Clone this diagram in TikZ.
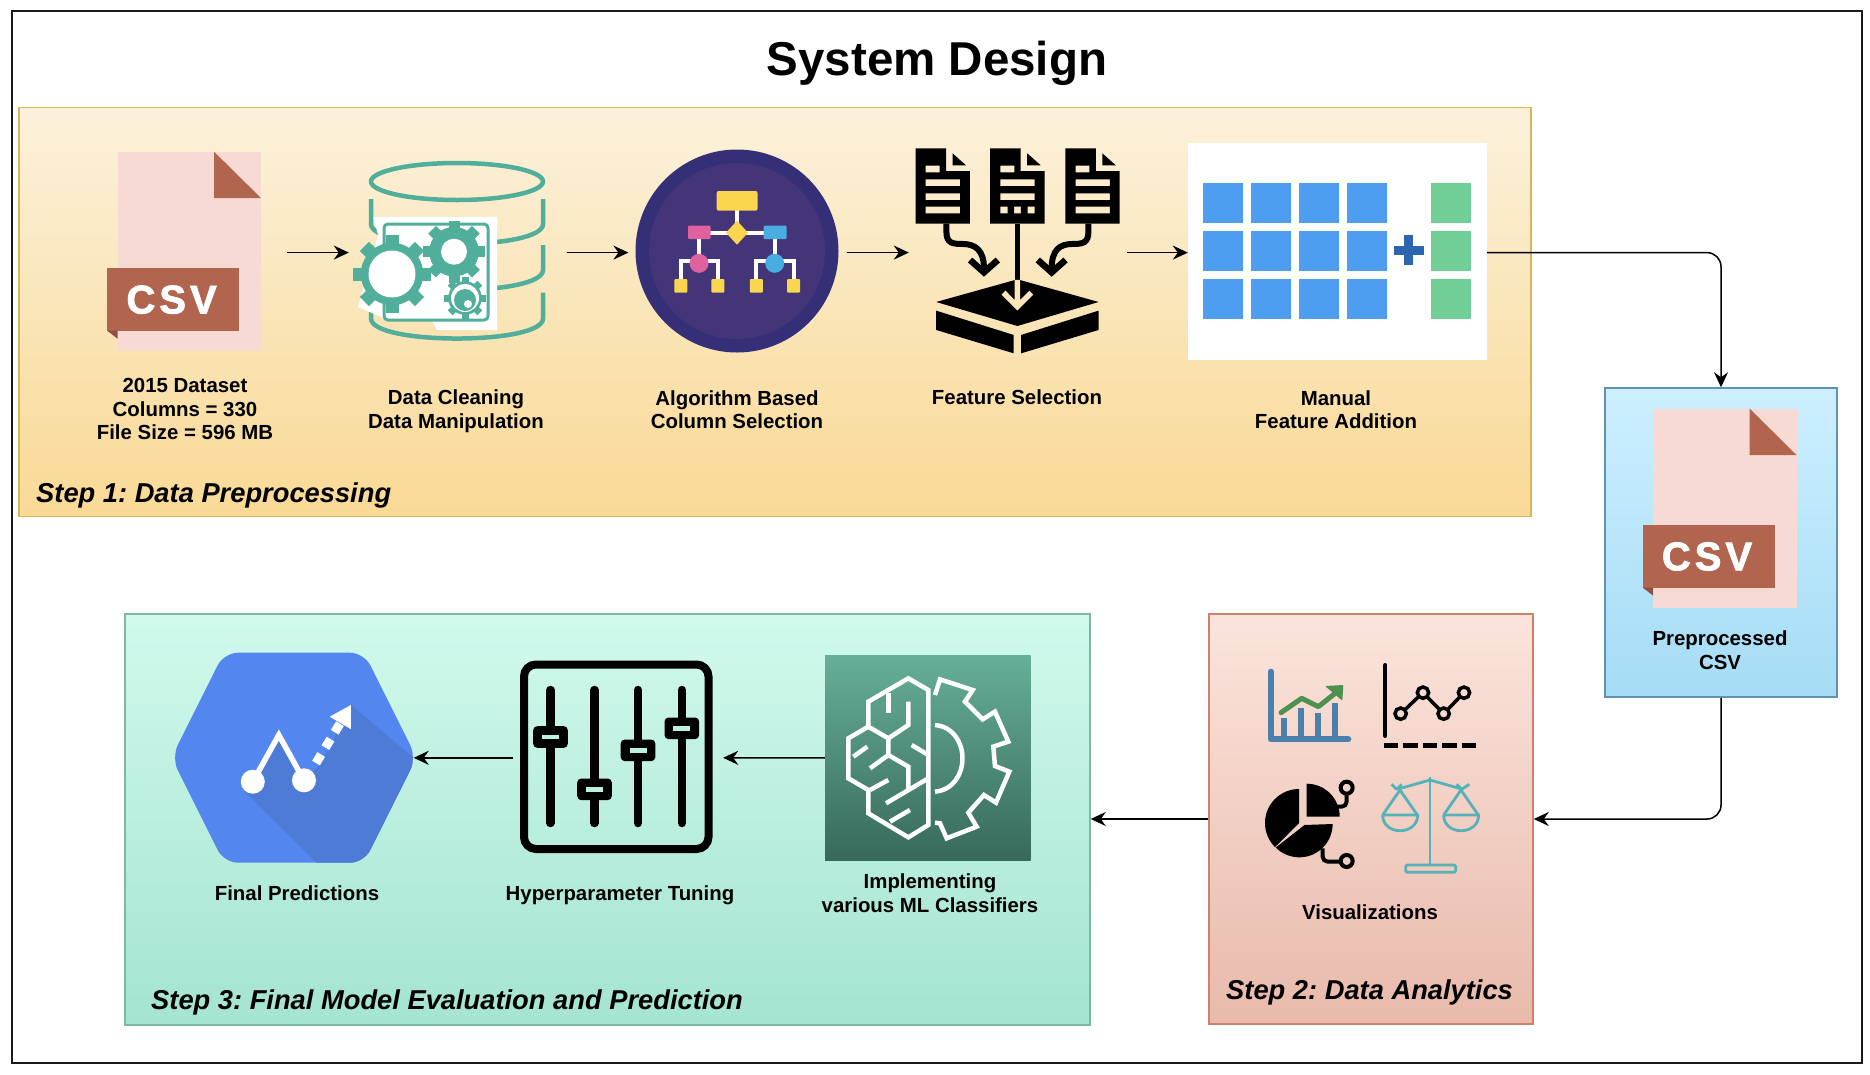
\documentclass[tikz,border=0pt]{standalone}
\usepackage{fontspec}
\setmainfont{Liberation Sans}
\newfontfamily\csvfont{Liberation Sans}[BoldFeatures={FakeBold=2}]
\usetikzlibrary{arrows.meta}
\definecolor{framebd}{HTML}{1A1A1A}
\definecolor{yeltop}{HTML}{FBF1DB}
\definecolor{yelbot}{HTML}{F9D995}
\definecolor{yelbd}{HTML}{D6B656}
\definecolor{redtop}{HTML}{FBE4DC}
\definecolor{redbot}{HTML}{E8BAAB}
\definecolor{redbd}{HTML}{CE8169}
\definecolor{grntop}{HTML}{D1F9EC}
\definecolor{grnbot}{HTML}{A4E4D1}
\definecolor{grnbd}{HTML}{7DB8A4}
\definecolor{blutop}{HTML}{CDEFFF}
\definecolor{blubot}{HTML}{A5DCF5}
\definecolor{blubd}{HTML}{5F93B3}
\definecolor{csvbody}{HTML}{F8DAD4}
\definecolor{csvband}{HTML}{B1654E}
\definecolor{dbgreen}{HTML}{50AE9B}
\definecolor{algoouter}{HTML}{342F77}
\definecolor{algoinner}{HTML}{433577}
\definecolor{algoyel}{HTML}{FAD64F}
\definecolor{algopink}{HTML}{E0619F}
\definecolor{algoblue}{HTML}{49ADE2}
\definecolor{featbg}{HTML}{FAE6BC}
\definecolor{tblblue}{HTML}{4D9EF0}
\definecolor{tblplus}{HTML}{2C66AE}
\definecolor{tblgreen}{HTML}{6FCF97}
\definecolor{barblue}{HTML}{4A80A9}
\definecolor{bargreen}{HTML}{4C9150}
\definecolor{scaleteal}{HTML}{57B1B9}
\definecolor{hexblue}{HTML}{5386EE}
\definecolor{hexdark}{HTML}{4D7BD6}
\definecolor{knobbg}{HTML}{BDF0DF}
\definecolor{mltop}{HTML}{66AF98}
\definecolor{mlbot}{HTML}{37695A}
\tikzset{
	stepbox/.style={draw, line width=1.5pt, inner sep=0pt},
	iconbox/.style={inner sep=0pt, minimum height=100pt},
	lbl/.style={font=\bfseries\fontsize{20.4}{23.5}\selectfont, align=center, inner sep=0pt},
	steplbl/.style={font=\frenchspacing\bfseries\itshape\fontsize{27.3}{32}\selectfont, anchor=west, inner sep=0pt},
	arr/.style={line width=1.5pt, -{Stealth[length=15pt,width=14pt,inset=5pt]}},
	pics/csvfile/.style={code={
		\fill[csvbody] (0,0) rectangle (143.5,199);
		\fill[csvband] (96.5,0) -- (143.5,46.5) -- (96.5,46.5) -- cycle;
		\fill[csvband] (-10.5,116.5) rectangle (121.5,179);
		\fill[csvband!80!black] (-10.5,179) -- (0,179) -- (0,187) -- cycle;
		\node[text=white, inner sep=0pt, font=\csvfont\bfseries\fontsize{40}{40}\selectfont] (-label) at (54,148) {C\kern4pt S\kern4pt V};
	}},
	pics/gear/.style n args={3}{code={
		\fill[dbgreen] (0,0) circle[radius=#1*0.8];
		\foreach \a in {0,45,...,315}
			\fill[dbgreen, rotate=\a] (-#3,0) rectangle (#3,#1);
		\fill[white] (0,0) circle[radius=#2];
	}},
	pics/docsheet/.style={code={
		\fill[even odd rule] (0,0) -- (30.5,0) -- (30.5,22.7) -- (54.3,22.7) -- (54.3,75.4) -- (0,75.4) -- cycle
			(10.2,17.4) rectangle (24.1,24) (10.2,31) rectangle (44.5,37.7) (10.2,45) rectangle (44.5,51.7) #1;
		\fill (37,5) -- (37,17) -- (50.5,17) -- cycle;
	}}
}
\begin{document}
\begin{tikzpicture}[x=1pt, y=-1pt]
	\useasboundingbox (0,0) rectangle (1870,1074);
	\node[draw=framebd, line width=2pt, inner sep=0pt, minimum width=1850pt, minimum height=1052pt] (frame) at (937,537) {}; %Moldura
	\node[font=\bfseries\fontsize{47.5}{50}\selectfont, inner sep=0pt] (title) at (937,63.5) {System Design};

	%Caixas
	\node[stepbox, draw=yelbd, top color=yeltop, bottom color=yelbot, minimum width=1512pt, minimum height=409pt] (stepone) at (775,312) {};
	\node[stepbox, draw=blubd, top color=blutop, bottom color=blubot, minimum width=232pt, minimum height=309pt] (preproc) at (1721,542.5) {};
	\node[stepbox, draw=redbd, top color=redtop, bottom color=redbot, minimum width=324pt, minimum height=410pt] (steptwo) at (1371,819) {};
	\node[stepbox, draw=grnbd, top color=grntop, bottom color=grnbot, minimum width=965pt, minimum height=411pt] (stepthree) at (607.5,819.5) {};

	%Arquivos CSV
	\pic (csvone) at (117.6,151.7) {csvfile};
	\pic (csvtwo) at (1653,408.5) {csvfile};

	%Banco de dados
	\begin{scope}[dbgreen, line width=4.5pt]
		\draw (457,181.5) ellipse [x radius=86, y radius=18.5];
		\foreach \ytop/\yend in {199/224, 245/270, 292.5/318.5}
			\draw (371,\ytop) -- (371,\yend) .. controls (371,\yend+26.7) and (543,\yend+26.7) .. (543,\yend) -- (543,\ytop);
	\end{scope}
	\fill[white] (373.5,217) -- (497,217) -- (497,330) -- (437,330) -- (431,319) -- (386,319) -- (358,307) -- (373,255) -- (378,235) -- cycle;
	\draw[dbgreen, line width=3pt, rounded corners=4pt] (384,224) rectangle (488,320);
	\pic at (392,274) {gear={39}{23.5}{6.5}};
	\pic at (454,251.7) {gear={31}{13}{5.5}};
	\pic at (465,298) {gear={21}{14}{3.5}};
	\fill[dbgreen] (465,300) circle[radius=11];
	\fill[white] (468,304) circle[radius=4];

	%Fluxograma
	\fill[algoouter] (737,251) circle[radius=101.5];
	\fill[algoinner] (737,251) circle[radius=88];
	\draw[white, line width=4pt] (737,210) -- (737,232.7) (710,232.7) -- (764,232.7) (699,239) -- (699,255) (774.7,239) -- (774.7,255);
	\draw[white, line width=4pt] (680.8,280) -- (680.8,261) -- (718,261) -- (718,280) (756.3,280) -- (756.3,261) -- (793.5,261) -- (793.5,280);
	\fill[algoyel, rounded corners=2pt] (716.7,191) rectangle (757.5,210.7);
	\fill[algoyel] (726,232.7) -- (737,220.7) -- (748,232.7) -- (737,244.7) -- cycle;
	\fill[algopink, rounded corners=1pt] (688,225.7) rectangle (710.6,239);
	\fill[algoblue, rounded corners=1pt] (763.7,225.7) rectangle (786.5,239);
	\fill[algopink] (699,263.3) circle[radius=9.5];
	\fill[algoblue] (774.7,263.3) circle[radius=9.5];
	\foreach \bx in {674.3,711.4,749.8,787}
		\fill[algoyel, rounded corners=1pt] (\bx,279) rectangle ++(13,13.7);

	%Selecao de atributos
	\pic at (915.5,148.3) {docsheet={(10.2,58.4) rectangle (44.5,65)}};
	\pic at (990.2,148.3) {docsheet={(10.2,58.4) rectangle (17.5,65) (24,58.4) rectangle (30.6,65) (37.5,58.4) rectangle (44.5,65)}};
	\pic at (1065.3,148.3) {docsheet={(10.2,58.4) rectangle (44.5,65)}};
	\begin{scope}[shift={(620,100)}, x=0.408pt, y=-0.3333pt]
		\draw[line width=6pt] (800,371) -- (800,395) .. controls (800,430) and (815,432) .. (840,432) .. controls (870,432) and (892,450) .. (892,505);
		\draw[line width=6.5pt] (858,480) -- (892,517) -- (926,480);
		\draw[line width=6pt] (1148,371) -- (1148,395) .. controls (1148,430) and (1133,432) .. (1108,432) .. controls (1078,432) and (1058,450) .. (1058,505);
		\draw[line width=6.5pt] (1024,480) -- (1058,517) -- (1092,480);
		\draw[line width=5.5pt] (974,371) -- (974,540);
		\fill (775,606) -- (974,538) -- (1173,606) -- (974,678) -- cycle;
		\draw[featbg, line width=5.5pt] (974,540) -- (974,620) (940,578) -- (974,620) -- (1008,578);
		\fill (775,632) -- (965,705) -- (965,760) -- (775,690) -- cycle;
		\fill (983,705) -- (1173,632) -- (1173,690) -- (983,760) -- cycle;
	\end{scope}

	%Tabela
	\node[fill=white, inner sep=0pt, minimum width=299pt, minimum height=217pt] (ntable) at (1337.5,251) {};
	\foreach \cx in {1203,1251,1299,1347}
		\foreach \cy in {183.3,231.3,279}
			\fill[tblblue] (\cx,\cy) rectangle ++(39.7,39.7);
	\foreach \cy in {183.3,231.3,279}
		\fill[tblgreen] (1431,\cy) rectangle ++(40,39.7);
	\draw[tblplus, line width=9pt] (1393.5,250.4) -- (1423.5,250.4) (1408.5,235.4) -- (1408.5,265.4);

	%Visualizacoes
	\begin{scope}[shift={(1180,600)}, x=0.3333pt, y=-0.3333pt]
		\draw[barblue, line width=6pt, line cap=round, line join=round] (272,215) -- (272,418) -- (505,418);
		\foreach \bx/\btop in {312/355, 363/325, 414/340, 465/310}
			\draw[barblue, line width=6.5pt] (\bx,\btop) -- (\bx,418);
		\draw[bargreen, line width=5pt, line cap=round, line join=round] (303,338) -- (365,295) -- (415,320) -- (478,270);
		\fill[bargreen, rounded corners=1pt] (490,255) -- (435,258) -- (487,302) -- cycle;
		\draw[line width=4pt, line cap=round] (616,195) -- (616,408);
		\draw[line width=4.5pt, dash pattern=on 14.5pt off 4.9pt] (612,436) -- (892,436);
		\draw[line width=3.5pt] (662,341) circle[radius=17] (729,278) circle[radius=17] (791,341) circle[radius=17] (852,278) circle[radius=17];
		\draw[line width=3.5pt] (675,329) -- (716,290) (741,290) -- (779,329) (803,329) -- (840,290);
		\draw[line width=4pt] (500,563) circle[radius=18];
		\draw[line width=4pt, rounded corners=5pt] (500,581) -- (500,620) -- (470,620);
		\draw[line width=4pt] (500,783) circle[radius=18];
		\draw[line width=4pt, rounded corners=5pt] (482,785) -- (428,785) -- (428,745);
		\begin{scope}[scaleteal, line width=2.8pt, line join=round]
			\draw (750,530) -- (750,795);
			\draw[rounded corners=2pt] (677,795) rectangle (827,817);
			\draw (655,567) -- (750,540) -- (845,567);
			\draw (635,553) -- (650,568) -- (665,553) (830,553) -- (845,568) -- (868,553);
			\foreach \pan in {660,843} {
				\draw (\pan-52,645) -- (\pan,570) -- (\pan+52,645);
				\draw (\pan-52,645) -- (\pan+53,645) .. controls (\pan+53,708) and (\pan-52,708) .. (\pan-52,645);
			}
		\end{scope}
	\end{scope}
	\fill (1299,823) -- plot[domain=90:225, samples=30] ({1299+34*cos(\x)},{823-34*sin(\x)}) -- cycle; %Setores
	\fill (1304.5,825) -- plot[domain=225:360, samples=30] ({1299.3+33.3*cos(\x)},{824-33.3*sin(\x)}) -- cycle;
	\fill (1306.7,816.7) -- plot[domain=0:90, samples=20] ({1306.7+33*cos(\x)},{816.7-33*sin(\x)}) -- cycle;

	%Classificadores
	\node[top color=mltop, bottom color=mlbot, inner sep=0pt, minimum size=205.7pt] (nml) at (927.85,757.85) {};
	\begin{scope}[shift={(780,630)}, x=0.3333pt, y=-0.3333pt, white, line width=4.5pt, line join=miter]
		\draw (445,180) -- (385,145) -- (265,215) -- (265,290) -- (205,325) -- (205,445) -- (265,480) -- (265,550) -- (385,622) -- (445,585) -- cycle;
		\draw (325,190) -- (325,250);
		\draw (385,215) -- (385,285) -- (325,325) -- (265,290);
		\draw (325,325) -- (325,375) -- (270,415);
		\draw (325,375) -- (385,410) -- (385,480);
		\draw (220,380) -- (262,350);
		\draw (395,345) -- (445,375);
		\draw (270,480) -- (325,450);
		\draw (318,520) -- (445,445);
		\draw (330,575) -- (390,540);
		\draw (465,285) .. controls (575,295) and (575,475) .. (465,485);
		\draw (465,195) -- (480,148) -- (578,180) -- (555,215) -- (608,268) -- (645,245) -- (685,335) -- (640,350) -- (645,408) -- (688,425) -- (648,518) -- (612,495) -- (565,548) -- (590,590) -- (500,625) -- (480,580) -- (465,578);
	\end{scope}

	%Ajuste de hiperparametros
	\draw[line width=8pt, rounded corners=12pt] (524,664.5) rectangle (708.5,849);
	\foreach \sx/\sy in {550.5/737, 594.5/789.3, 638/750.3, 681.8/728.3} {
		\draw[line width=8.5pt, line cap=round] (\sx,690) -- (\sx,823);
		\fill[rounded corners=4pt] (\sx-17.3,\sy-10.8) rectangle (\sx+17.3,\sy+10.8);
		\fill[knobbg] (\sx-8.5,\sy-2.3) rectangle (\sx+8.5,\sy+2.3);
	}

	%Hexagono
	\fill[hexblue, rounded corners=14pt] (171.5,757.7) -- (224,652.7) -- (364,652.7) -- (416.5,757.7) -- (364,862.7) -- (224,862.7) -- cycle;
	\begin{scope}
		\clip[rounded corners=14pt] (171.5,757.7) -- (224,652.7) -- (364,652.7) -- (416.5,757.7) -- (364,862.7) -- (224,862.7) -- cycle;
		\fill[hexdark] (351.5,705) -- (425,768) -- (425,870) -- (324,870) -- (246,793) -- (279,735) -- (304,780) -- (320,765) -- cycle;
	\end{scope}
	\fill[white] (252.8,781.7) circle[radius=12] (304,780.3) circle[radius=12];
	\draw[white, line width=5.5pt] (252.8,781.7) -- (278.8,735) -- (304,780.3);
	\draw[white, line width=9pt, dash pattern=on 10pt off 8pt] (316,763) -- (341,722);
	\fill[white] (350.8,705) -- (329.7,716.7) -- (350.8,729) -- cycle;

	%Nos invisiveis para as setas
	\node[iconbox, minimum width=182pt] (ncsv) at (196,252.6) {};
	\node[iconbox, minimum width=217.5pt] (ndb) at (457.75,252.6) {};
	\node[iconbox, minimum width=217.9pt] (nalgo) at (737.55,252.6) {};
	\node[iconbox, minimum width=218pt] (nfeat) at (1018,252.6) {};
	\node[iconbox, minimum width=209.5pt] (nhyper) at (618.25,757.8) {};
	\node[iconbox, minimum width=239pt] (nhex) at (294,757.8) {};

	%Textos
	\node[lbl] (lblcsv) at (185,409) {2015 Dataset\\Columns = 330\\File Size = 596 MB};
	\node[lbl] (lbldb) at (456,411) {Data Cleaning\\Data Manipulation};
	\node[lbl] (lblalgo) at (737,409.5) {Algorithm Based\\Column Selection};
	\node[lbl] (lblfeat) at (1017,397) {Feature Selection};
	\node[lbl] (lbltable) at (1336,409.5) {Manual\\Feature Addition};
	\node[lbl] (lblpre) at (1720,650) {Preprocessed\\CSV};
	\node[lbl] (lblvis) at (1370,912) {Visualizations};
	\node[lbl] (lblhex) at (297,893) {Final Predictions};
	\node[lbl] (lblhyper) at (620,895) {Hyperparameter Tuning};
	\node[lbl] (lblml) at (930,893) {Implementing\\various ML Classifiers};
	\node[steplbl] (lblone) at (36,495) {Step 1: Data Preprocessing};
	\node[steplbl] (lbltwo) at (1226,992.4) {Step 2: Data Analytics};
	\node[steplbl] (lblthree) at (151,1002.4) {Step 3: Final Model Evaluation and Prediction};

	%Setas
	\draw[arr] (ncsv.east) -- (ndb.west);
	\draw[arr] (ndb.east) -- (nalgo.west);
	\draw[arr] (nalgo.east) -- (nfeat.west);
	\draw[arr] (nfeat.east) -- (nfeat.east -| ntable.west);
	\draw[arr, rounded corners=14pt] (nfeat.east -| ntable.east) -| (preproc.north);
	\draw[arr, rounded corners=14pt] (preproc.south) |- (steptwo.east);
	\draw[arr] (steptwo.west) -- (steptwo.west -| stepthree.east);
	\draw[arr] (nml.west) -- (nhyper.east);
	\draw[arr] (nhyper.west) -- (nhex.east);
\end{tikzpicture}
\end{document}
